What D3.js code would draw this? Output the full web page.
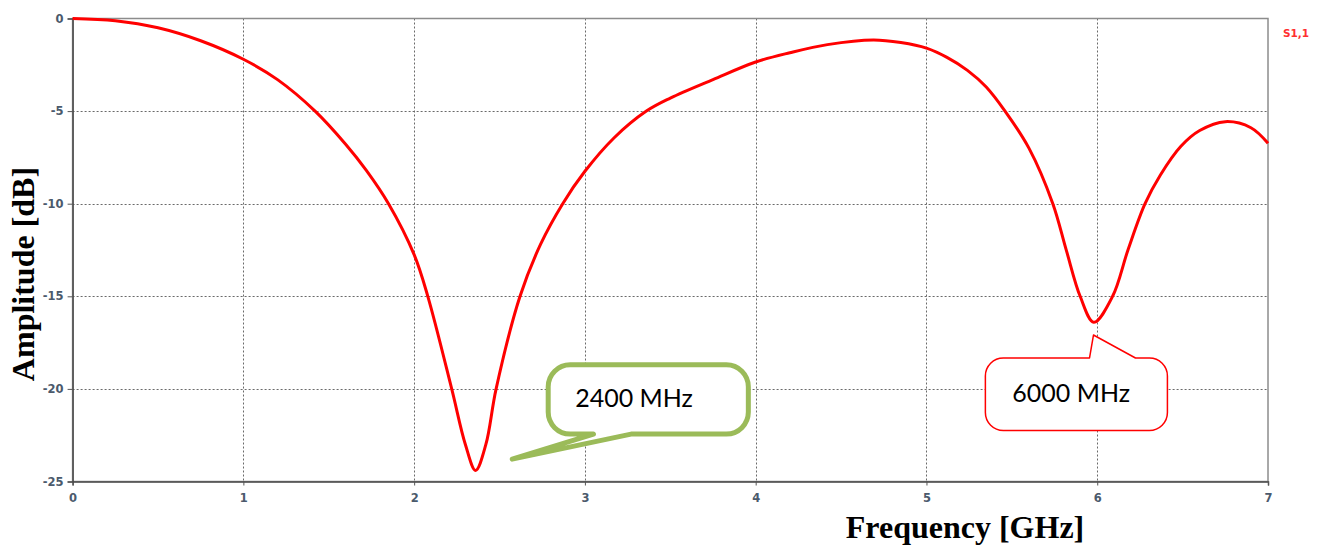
<!DOCTYPE html>
<html>
<head>
<meta charset="utf-8">
<script src="https://cdn.jsdelivr.net/npm/d3@7"></script>
<style>
  html, body { margin: 0; padding: 0; background: #fff; }
  svg { display: block; }
  .tick text { font-family: "DejaVu Sans", Tahoma, sans-serif; font-size: 11.5px; font-weight: bold; fill: #4b5a6c; }
  .tick line { stroke: #555; }
</style>
</head>
<body>
<div id="chart"></div>
<script>
// S1,1 reflection trace
var freqGHz = [0, 0.25, 0.5, 0.75, 1.0, 1.2, 1.42, 1.6, 1.72, 1.85, 2.0, 2.08, 2.22, 2.3, 2.36, 2.42, 2.48,
  2.62, 2.74, 2.87, 3.0, 3.17, 3.36, 3.5, 3.75, 4.0, 4.2, 4.42, 4.69, 4.85, 5.0, 5.12, 5.24, 5.35, 5.46, 5.6,
  5.74, 5.82, 5.9, 5.98, 6.09, 6.18, 6.28, 6.37, 6.49, 6.6, 6.75, 6.9, 7.0];
var s11dB = [0, -0.12, -0.5, -1.2, -2.2, -3.3, -5, -6.8, -8.2, -10, -12.75, -15, -20, -23, -24.4, -23, -20,
  -15, -12.2, -10, -8.25, -6.45, -5, -4.3, -3.3, -2.35, -1.85, -1.41, -1.16, -1.3, -1.6, -2.1, -2.8, -3.7, -5, -7.0,
  -10, -12.55, -15, -16.4, -15, -12.5, -10, -8.45, -6.9, -6.05, -5.57, -5.9, -6.74];

var xTicks = [0, 1, 2, 3, 4, 5, 6, 7];
var yTicks = [0, -5, -10, -15, -20, -25];

var seriesName = "S1,1";
var xTitle = "Frequency [GHz]";
var yTitle = "Amplitude [dB]";

// callout labels, anchored in data units (GHz, dB)
var calloutText = ["2400 MHz", "6000 MHz"];
var calloutBox = [[2.785, -18.7, 3.957, -22.44], [5.345, -18.33, 6.411, -22.25]];
var calloutTip = [[2.574, -23.79], [5.978, -17.09]];
var calloutBase = [[3.05, 3.27], [5.955, 6.224]];
var calloutSide = ["bottom", "top"];

var W = 1326, H = 545;
var m = {left: 72.6, right: 58, top: 18.5, bottom: 63.5};

var x = d3.scaleLinear().domain([0, 7]).range([m.left, W - m.right]);
var y = d3.scaleLinear().domain([0, -25]).range([m.top, H - m.bottom]);

var svg = d3.select("#chart").append("svg")
  .attr("width", W)
  .attr("height", H);

// dotted grid
var grid = svg.append("g").attr("stroke", "#6a6a6a").attr("stroke-width", 1).attr("stroke-dasharray", "2,2");
grid.selectAll(".vx").data(xTicks.slice(1, -1)).enter().append("line")
  .attr("x1", d => Math.round(x(d)) + 0.5).attr("x2", d => Math.round(x(d)) + 0.5)
  .attr("y1", y(0)).attr("y2", y(-25));
grid.selectAll(".hy").data(yTicks.slice(1, -1)).enter().append("line")
  .attr("y1", d => Math.round(y(d)) + 0.5).attr("y2", d => Math.round(y(d)) + 0.5)
  .attr("x1", x(0)).attr("x2", x(7));

// frame: top/right lighter than the axes
svg.append("rect")
  .attr("x", x(0)).attr("y", y(0))
  .attr("width", x(7) - x(0)).attr("height", y(-25) - y(0))
  .attr("fill", "none").attr("stroke", "#8c8c8c").attr("stroke-width", 1.5);

var xAxis = svg.append("g")
  .attr("transform", "translate(0," + y(-25) + ")")
  .call(d3.axisBottom(x).tickValues(xTicks).tickFormat(d => String(d)).tickSize(4).tickPadding(8));
var yAxis = svg.append("g")
  .attr("transform", "translate(" + x(0) + ",0)")
  .call(d3.axisLeft(y).tickValues(yTicks).tickFormat(d => String(d)).tickSize(5).tickPadding(4));
xAxis.select(".domain").attr("stroke", "#4a4a4a").attr("stroke-width", 1.5);
yAxis.select(".domain").attr("stroke", "#4a4a4a").attr("stroke-width", 1.5);

// the trace
var line = d3.line()
  .x((d, i) => x(freqGHz[i]))
  .y(d => y(d))
  .curve(d3.curveCatmullRom.alpha(0.5));

svg.append("path")
  .datum(s11dB)
  .attr("d", line)
  .attr("fill", "none")
  .attr("stroke", "#ff0000")
  .attr("stroke-width", 3)
  .attr("stroke-linejoin", "round");

svg.append("text")
  .attr("x", x(7) + 15).attr("y", y(0) + 18)
  .attr("font-family", "DejaVu Sans, sans-serif")
  .attr("font-size", 10.5)
  .attr("font-weight", "bold")
  .attr("fill", "#ff3030")
  .text(seriesName);

// axis titles
svg.append("text")
  .attr("x", 965).attr("y", 538)
  .attr("text-anchor", "middle")
  .attr("font-family", "Liberation Serif, serif")
  .attr("font-weight", "bold")
  .attr("font-size", 32)
  .text(xTitle);

svg.append("text")
  .attr("transform", "translate(34,274) rotate(-90)")
  .attr("text-anchor", "middle")
  .attr("font-family", "Liberation Serif, serif")
  .attr("font-weight", "bold")
  .attr("font-size", 32)
  .text(yTitle);

// rounded-rect callout with a wedge tail
function calloutPath(b, tip, base, side, r) {
  var x0 = x(b[0]), y0 = y(b[1]), x1 = x(b[2]), y1 = y(b[3]);
  var tx = x(tip[0]), ty = y(tip[1]);
  var bx0 = x(base[0]), bx1 = x(base[1]);
  var p = "M" + (x0 + r) + "," + y0;
  if (side == "top") {
    p += "L" + bx0 + "," + y0 + "L" + tx + "," + ty + "L" + bx1 + "," + y0;
  }
  p += "L" + (x1 - r) + "," + y0 + "A" + r + "," + r + " 0 0 1 " + x1 + "," + (y0 + r);
  p += "L" + x1 + "," + (y1 - r) + "A" + r + "," + r + " 0 0 1 " + (x1 - r) + "," + y1;
  if (side == "bottom") {
    p += "L" + bx1 + "," + y1 + "L" + tx + "," + ty + "L" + bx0 + "," + y1;
  }
  p += "L" + (x0 + r) + "," + y1 + "A" + r + "," + r + " 0 0 1 " + x0 + "," + (y1 - r);
  p += "L" + x0 + "," + (y0 + r) + "A" + r + "," + r + " 0 0 1 " + (x0 + r) + "," + y0 + "Z";
  return p;
}

var calloutStroke = ["#9bbb59", "#ff0000"];
var calloutWidth = [5, 1.5];
var calloutRadius = [22, 18];

for (var i = 0; i < calloutText.length; i++) {
  svg.append("path")
    .attr("d", calloutPath(calloutBox[i], calloutTip[i], calloutBase[i], calloutSide[i], calloutRadius[i]))
    .attr("fill", "#fff")
    .attr("stroke", calloutStroke[i])
    .attr("stroke-width", calloutWidth[i])
    .attr("stroke-linejoin", "round");

  var by = (y(calloutBox[i][1]) + y(calloutBox[i][3])) / 2;
  svg.append("text")
    .attr("x", x(calloutBox[i][0]) + 27)
    .attr("y", by + 8)
    .attr("font-family", "Lato, sans-serif")
    .attr("font-size", 25)
    .attr("fill", "#000")
    .text(calloutText[i]);
}
</script>
</body>
</html>
